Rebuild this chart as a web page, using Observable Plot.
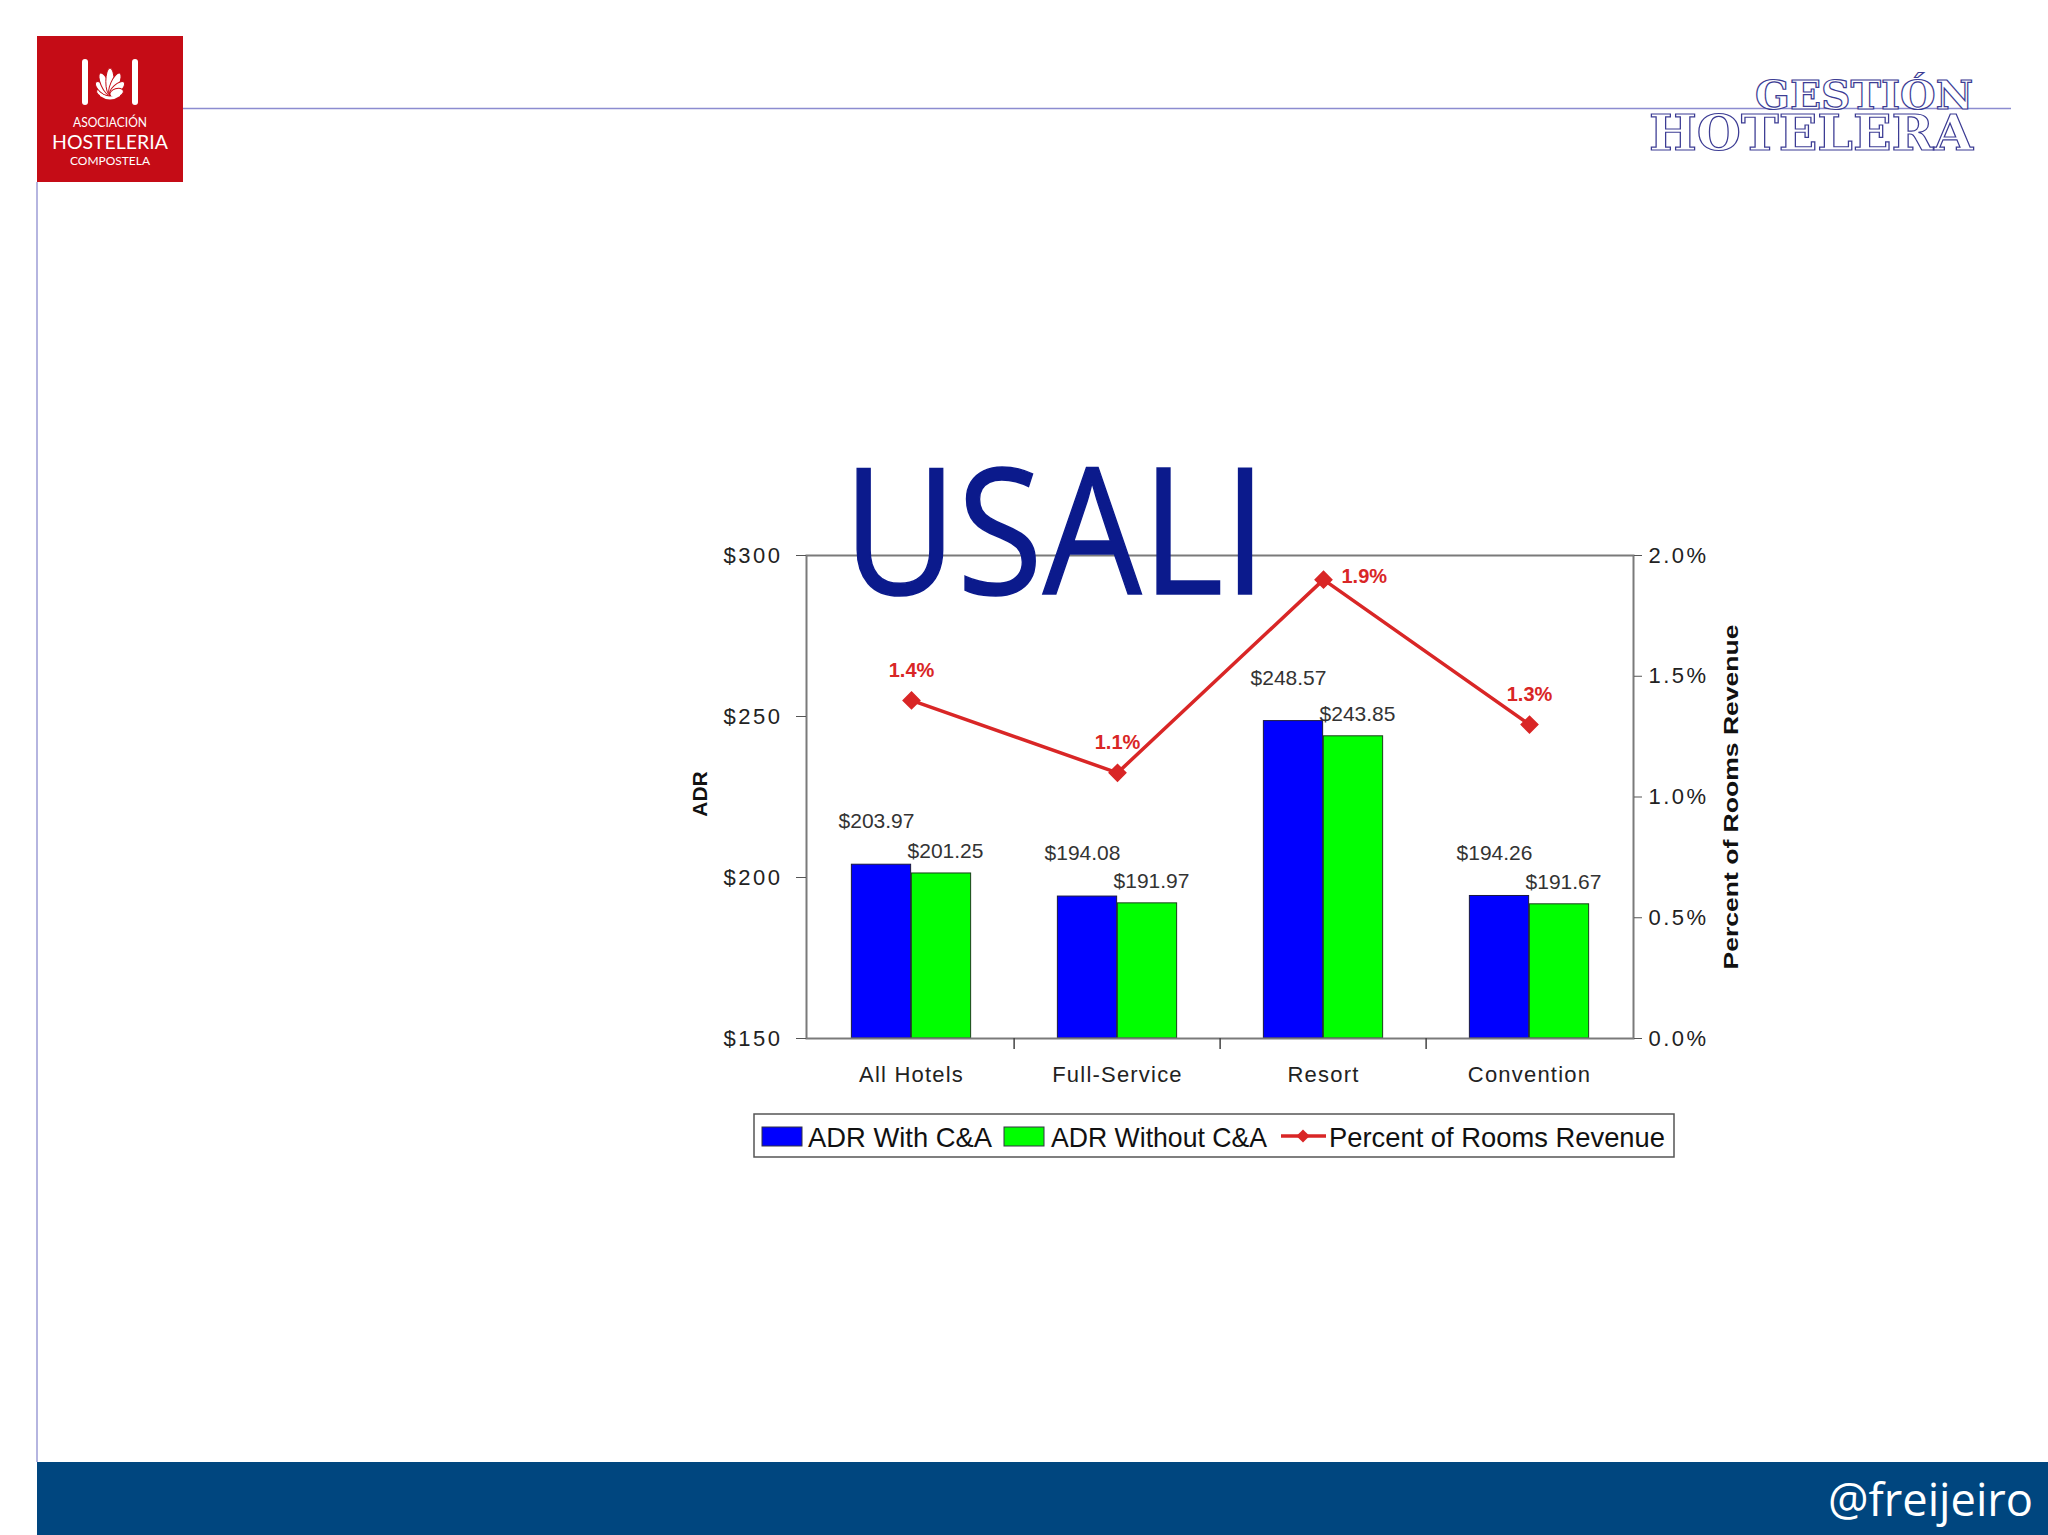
<!DOCTYPE html>
<html><head><meta charset="utf-8">
<script src="https://cdn.jsdelivr.net/npm/d3@7"></script>
<script src="https://cdn.jsdelivr.net/npm/@observablehq/plot@0.6"></script>
<style>
html,body{margin:0;padding:0;background:#fff;width:2048px;height:1535px;overflow:hidden;}
#chart{position:absolute;left:0;top:0;}
#deco{position:absolute;left:0;top:0;pointer-events:none;}
#chart g[aria-label="y-axis tick label"] text{letter-spacing:2.5px;}
#chart g[aria-label="x-axis tick label"] text{letter-spacing:1.2px;}
</style></head><body>
<div id="chart"></div>
<svg id="deco" width="2048" height="1535" xmlns="http://www.w3.org/2000/svg"></svg>
<script>
// ---- data ----
const categories = ["All Hotels", "Full-Service", "Resort", "Convention"];
const adrWithCA = [203.97, 194.08, 248.57, 194.26];
const adrWithoutCA = [201.25, 191.97, 243.85, 191.67];
const pctRoomsRevenue = [1.4, 1.1, 1.9, 1.3];
const adrTicks = [150, 200, 250, 300];
const pctTicks = [0, 0.5, 1.0, 1.5, 2.0];
const seriesNames = ["ADR With C&A", "ADR Without C&A", "Percent of Rooms Revenue"];
const leftAxisTitle = "ADR";
const rightAxisTitle = "Percent of Rooms Revenue";

// ---- derived ----
const rows = categories.map((c, i) => ({cat: c, withCA: adrWithCA[i], withoutCA: adrWithoutCA[i], pct: pctRoomsRevenue[i]}));
const yMin = adrTicks[0], yMax = adrTicks[adrTicks.length - 1];
const pMax = pctTicks[pctTicks.length - 1];
const pctToY = p => yMin + p / pMax * (yMax - yMin);
const yToPct = y => (y - yMin) / (yMax - yMin) * pMax;

const W = 2048, H = 1535, mL = 806, mR = W - 1633, mT = 555, mB = H - 1038;
const bw = (W - mL - mR) / categories.length;
const barW = 60;
const gap = bw / 2 - barW;
const BLUE = "#0000ff", GREEN = "#00ff00", RED = "#d92626";
const FONT = "'Liberation Sans', Arial, sans-serif";
const pctPeak = d3.max(pctRoomsRevenue);

const chart = Plot.plot({
  width: W, height: H,
  marginLeft: mL, marginRight: mR, marginTop: mT, marginBottom: mB,
  style: {fontFamily: FONT, fontSize: "21px", background: "transparent", overflow: "visible", color: "#222"},
  x: {domain: categories, padding: 0, axis: null},
  y: {domain: [yMin, yMax], axis: null},
  marks: [
    Plot.barY(rows, {x: "cat", y1: yMin, y2: "withCA", fill: BLUE, stroke: "#1a1a40", strokeWidth: 1, insetLeft: gap, insetRight: bw / 2}),
    Plot.barY(rows, {x: "cat", y1: yMin, y2: "withoutCA", fill: GREEN, stroke: "#1a401a", strokeWidth: 1, insetLeft: bw / 2, insetRight: gap}),
    Plot.frame({stroke: "#7a7a7a", strokeWidth: 2}),
    Plot.axisY({anchor: "left", ticks: adrTicks, tickFormat: d => "$" + d, tickSize: 10, tickPadding: 14, fontSize: 22, stroke: "#555", fill: "#222", label: null}),
    Plot.axisY({anchor: "right", ticks: pctTicks.map(pctToY), tickFormat: d => yToPct(d).toFixed(1) + "%", tickSize: 8, tickPadding: 7, fontSize: 22, stroke: "#555", fill: "#222", label: null}),
    Plot.axisX({anchor: "bottom", tickSize: 0, tickPadding: 28, fontSize: 22, fill: "#222", label: null}),
    Plot.tickX(categories.slice(1), {x: d => d, dx: -bw / 2, stroke: "#444", strokeWidth: 1.5, insetTop: H - mT - mB, insetBottom: -11}),
    Plot.text(rows, {x: "cat", y: "withCA", text: d => "$" + d.withCA.toFixed(2), dx: -35, dy: -43, fontSize: 21, fill: "#333"}),
    Plot.text(rows, {x: "cat", y: "withoutCA", text: d => "$" + d.withoutCA.toFixed(2), dx: 34, dy: -22, fontSize: 21, fill: "#333"}),
    Plot.line(rows, {x: "cat", y: d => pctToY(d.pct), stroke: RED, strokeWidth: 3.5}),
    Plot.dot(rows, {x: "cat", y: d => pctToY(d.pct), symbol: "diamond2", r: 7.5, fill: RED, stroke: RED}),
    Plot.text(rows.filter(d => d.pct !== pctPeak), {x: "cat", y: d => pctToY(d.pct), text: d => d.pct.toFixed(1) + "%", dx: 0, dy: -30, fontSize: 20, fontWeight: "bold", fill: RED}),
    Plot.text(rows.filter(d => d.pct === pctPeak), {x: "cat", y: d => pctToY(d.pct), text: d => d.pct.toFixed(1) + "%", dx: 18, dy: -3, textAnchor: "start", fontSize: 20, fontWeight: "bold", fill: RED})
  ]
});
document.getElementById("chart").appendChild(chart);

// ---- decorations ----
const deco = d3.select("#deco");
deco.append("line").attr("x1", 183).attr("x2", 2011).attr("y1", 108.5).attr("y2", 108.5).attr("stroke", "#8c8cd0").attr("stroke-width", 1.5);
deco.append("line").attr("x1", 37).attr("x2", 37).attr("y1", 182).attr("y2", 1462).attr("stroke", "#9c9cd6").attr("stroke-width", 1.5);
// logo
const logo = deco.append("g");
logo.append("rect").attr("x", 37).attr("y", 36).attr("width", 146).attr("height", 146).attr("fill", "#c50c16");
logo.append("rect").attr("x", 82).attr("y", 59).attr("width", 6).attr("height", 46).attr("rx", 3).attr("fill", "#fff");
logo.append("rect").attr("x", 132).attr("y", 59).attr("width", 6).attr("height", 46).attr("rx", 3).attr("fill", "#fff");
const petals = [[-72, 14], [-48, 19], [-24, 24], [0, 27], [24, 24], [48, 19], [72, 14]];
petals.forEach(([a, len]) => {
  const rad = a * Math.PI / 180, bx = 110, by = 95;
  const cx = bx + Math.sin(rad) * len / 2, cy = by - Math.cos(rad) * len / 2;
  logo.append("ellipse").attr("cx", cx).attr("cy", cy).attr("rx", 4.2).attr("ry", len / 2)
    .attr("transform", `rotate(${a},${cx},${cy})`).attr("fill", "#fff").attr("stroke", "#c50c16").attr("stroke-width", 1);
});
logo.append("path").attr("d", "M100,93 Q110,100 120,93 L120,96 Q110,103 100,96 Z").attr("fill", "#fff");
const logoText = [["ASOCIACIÓN", 127, 14, 74], ["HOSTELERIA", 149, 20, 116], ["COMPOSTELA", 165, 12, 80]];
logoText.forEach(([t, y, fs, len]) => {
  logo.append("text").attr("x", 110).attr("y", y).attr("text-anchor", "middle").attr("font-family", "Lato, 'Open Sans', sans-serif")
    .attr("font-size", fs).attr("fill", "#fff").attr("textLength", len).attr("lengthAdjust", "spacingAndGlyphs").text(t);
});
// Gestión Hotelera (one two-line wordmark)
const gh = deco.append("text").attr("font-family", "'DejaVu Serif', serif").attr("font-weight", "bold")
  .attr("fill", "#fff").attr("stroke", "#3c3c94").attr("stroke-width", 1.2);
gh.append("tspan").attr("x", 1755).attr("y", 109).attr("font-size", 40)
  .attr("textLength", 218).attr("lengthAdjust", "spacingAndGlyphs").text("GESTIÓN");
gh.append("tspan").attr("x", 1649).attr("y", 150).attr("font-size", 48)
  .attr("textLength", 324).attr("lengthAdjust", "spacingAndGlyphs").text("HOTELERA");
// title
deco.append("text").attr("x", 843).attr("y", 594).attr("font-family", "'Open Sans', 'Noto Sans', sans-serif")
  .attr("font-size", 176).attr("fill", "#0b1a8c").attr("stroke", "#0b1a8c").attr("stroke-width", 1.5)
  .attr("textLength", 424).attr("lengthAdjust", "spacingAndGlyphs").text("USALI");
// axis titles
deco.append("text").attr("transform", "translate(707,794) rotate(-90)").attr("text-anchor", "middle")
  .attr("font-family", FONT).attr("font-weight", "bold").attr("font-size", 21).attr("fill", "#111").text(leftAxisTitle);
deco.append("text").attr("transform", "translate(1738,797) rotate(-90)").attr("text-anchor", "middle")
  .attr("font-family", FONT).attr("font-weight", "bold").attr("font-size", 21).attr("fill", "#111")
  .attr("textLength", 345).attr("lengthAdjust", "spacingAndGlyphs").text(rightAxisTitle);
// legend
const lg = deco.append("g");
lg.append("rect").attr("x", 754).attr("y", 1114).attr("width", 920).attr("height", 43).attr("fill", "#fff").attr("stroke", "#555").attr("stroke-width", 1.5);
const legendItems = [
  {name: seriesNames[0], kind: "rect", color: BLUE, x: 762, tx: 808, len: 184},
  {name: seriesNames[1], kind: "rect", color: GREEN, x: 1004, tx: 1051, len: 216},
  {name: seriesNames[2], kind: "line", color: RED, x: 1281, tx: 1329, len: 336}
];
legendItems.forEach(it => {
  if (it.kind === "rect") {
    lg.append("rect").attr("x", it.x).attr("y", 1127).attr("width", 40).attr("height", 19).attr("fill", it.color).attr("stroke", "#334").attr("stroke-width", 1);
  } else {
    lg.append("line").attr("x1", it.x).attr("x2", it.x + 45).attr("y1", 1136).attr("y2", 1136).attr("stroke", it.color).attr("stroke-width", 3.5);
    lg.append("path").attr("d", d3.symbol(d3.symbolDiamond2 || d3.symbolDiamond, 110)()).attr("transform", `translate(${it.x + 22},1136)`).attr("fill", it.color);
  }
  lg.append("text").attr("x", it.tx).attr("y", 1147).attr("font-family", FONT).attr("font-size", 28).attr("fill", "#111")
    .attr("textLength", it.len).attr("lengthAdjust", "spacingAndGlyphs").text(it.name);
});
// footer
deco.append("rect").attr("x", 37).attr("y", 1462).attr("width", 2011).attr("height", 73).attr("fill", "#00467f");
deco.append("text").attr("x", 1828).attr("y", 1516).attr("font-family", "'Open Sans', 'Noto Sans', sans-serif")
  .attr("font-size", 46).attr("fill", "#fff").attr("textLength", 205).attr("lengthAdjust", "spacingAndGlyphs").text("@freijeiro");
</script>
</body></html>
